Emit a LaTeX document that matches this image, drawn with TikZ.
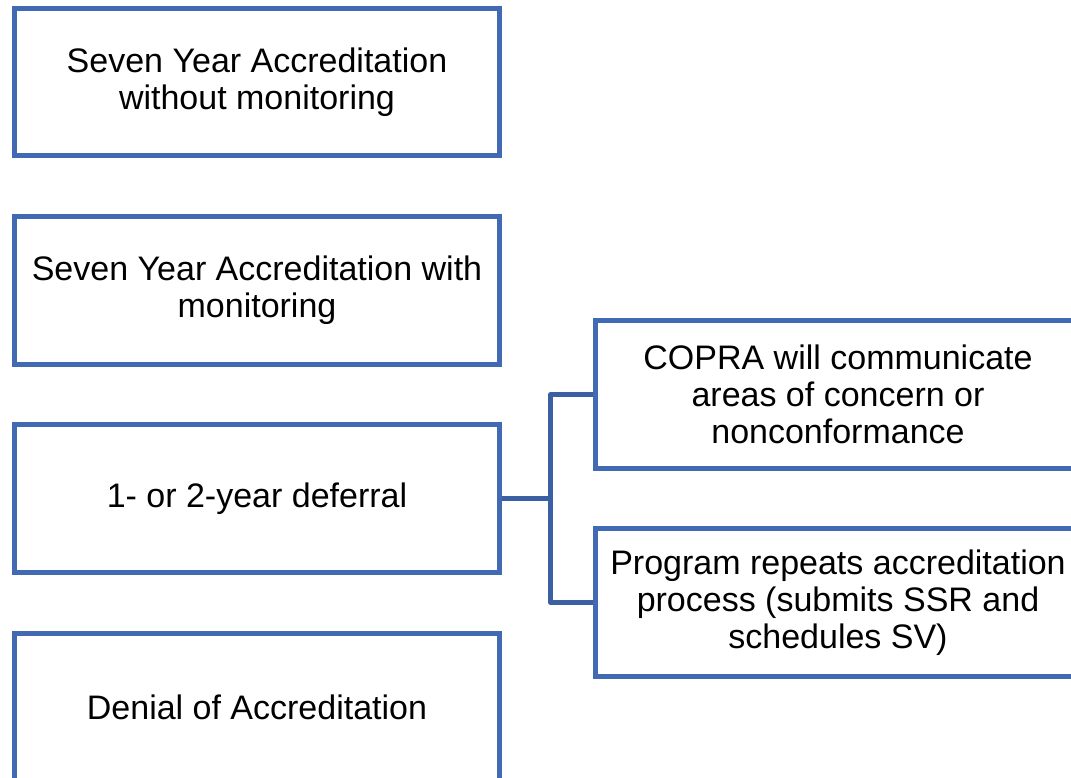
\documentclass[tikz,border=0pt]{standalone}
\usepackage{fontspec}
\setmainfont{Liberation Sans}
\usepackage{tikz}
\usetikzlibrary{positioning}
\definecolor{boxblue}{RGB}{65,106,178}
\definecolor{linkblue}{RGB}{58,96,163}

\begin{document}
\begin{tikzpicture}[x=1pt,y=1pt,
  outcome/.style={draw=boxblue,line width=5pt,fill=white,inner sep=0pt,
    minimum width=485pt,minimum height=147.5pt,align=center,
    font=\fontsize{34}{37}\selectfont},
  link/.style={draw=linkblue,line width=4.5pt}]
\clip (0,0) rectangle (1071,-778); % page of the reference
\fill[white] (0,0) rectangle (1071,-778);
% left column, one box per decision
\node[outcome] (seven) at (257,-82.25) {Seven Year Accreditation\\without monitoring};
\node[outcome] (monitor) at (257,-290.5) {Seven Year Accreditation with\\monitoring};
\node[outcome] (defer) at (257,-498.5) {1- or 2-year deferral};
\node[outcome] (deny) at (257,-707) {Denial of Accreditation};
% right column for the deferral
\node[outcome] (concern) at (838,-394.5) {COPRA will communicate\\areas of concern or\\nonconformance};
\node[outcome] (repeat) at (838,-602.5) {Program repeats accreditation\\process (submits SSR and\\schedules SV)};
\draw[link] (defer.east) -- ++(48.5,0) coordinate (bus);
\draw[link,line join=round] (concern.west) -| (bus) |- (repeat.west);
\end{tikzpicture}
\end{document}
